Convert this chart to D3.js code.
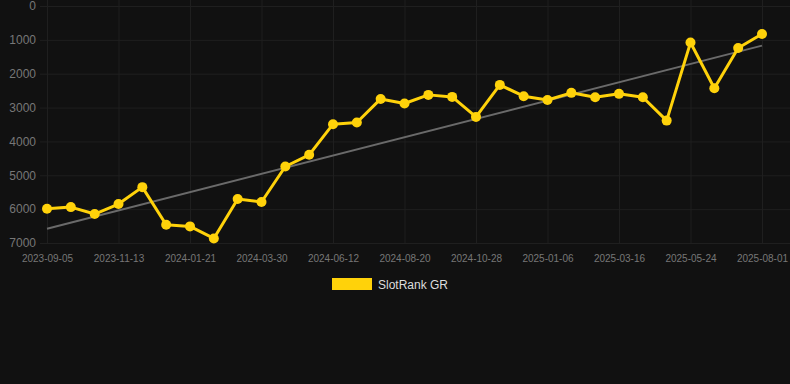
<!DOCTYPE html>
<html>
<head>
<meta charset="utf-8">
<script src="https://cdn.jsdelivr.net/npm/d3@7"></script>
<style>
  body { margin: 0; background: #111111; }
  svg { display: block; font-family: "Liberation Sans", Arial, sans-serif; }
  .grid line { stroke: #1f1f1f; }
  .grid text { fill: #777777; }
</style>
</head>
<body>
<div id="chart"></div>
<script>
// one label every third point
var tickLabels = ["2023-09-05", "2023-11-13", "2024-01-21", "2024-03-30", "2024-06-12",
  "2024-08-20", "2024-10-28", "2025-01-06", "2025-03-16", "2025-05-24", "2025-08-01"];

var rankValues = [5990, 5940, 6145, 5850, 5350, 6460, 6510, 6865, 5700, 5790,
  4740, 4395, 3490, 3440, 2745, 2880, 2625, 2685, 3275, 2330,
  2665, 2775, 2565, 2695, 2595, 2695, 3385, 1080, 2430, 1240, 825];

// trend line ends (first point, last point)
var trendValues = [6580, 1170];

var yTicks = [0, 1000, 2000, 3000, 4000, 5000, 6000, 7000];
var seriesName = "SlotRank GR";

var svgWidth = 790;
var svgHeight = 384;

var svg = d3.select("#chart")
  .append("svg")
  .attr("width", svgWidth)
  .attr("height", svgHeight);

svg.append("rect")
  .attr("width", svgWidth)
  .attr("height", svgHeight)
  .attr("fill", "#111111");

var idx = d3.range(rankValues.length);

var xScale = d3.scalePoint()
  .domain(idx)
  .range([47, 762]);

var yScale = d3.scaleLinear()
  .domain([0, 7000])
  .range([6, 243]);

// horizontal grid + y labels
var leftAxis = d3.axisLeft(yScale)
  .tickValues(yTicks)
  .tickSize(-750)
  .tickPadding(4)
  .tickFormat(d3.format("d"));

svg.append("g")
  .attr("class", "grid")
  .attr("transform", "translate(40, 0)")
  .call(leftAxis)
  .call(g => g.select(".domain").remove())
  .selectAll("text")
  .attr("font-size", "12px");

// vertical grid + x labels
var bottomAxis = d3.axisBottom(xScale)
  .tickValues(idx.filter(i => i % 3 == 0))
  .tickSize(-243)
  .tickPadding(12)
  .tickFormat(i => tickLabels[i / 3]);

svg.append("g")
  .attr("class", "grid")
  .attr("transform", "translate(0, 243)")
  .call(bottomAxis)
  .call(g => g.select(".domain").remove())
  .selectAll("text")
  .attr("font-size", "10px")
  .attr("fill", "#6e6e6e");

svg.append("line")
  .attr("x1", xScale(0))
  .attr("y1", yScale(trendValues[0]))
  .attr("x2", xScale(rankValues.length - 1))
  .attr("y2", yScale(trendValues[1]))
  .attr("stroke", "#6a6a6a")
  .attr("stroke-width", 2);

var line = d3.line()
  .x(i => xScale(i))
  .y(i => yScale(rankValues[i]));

svg.append("path")
  .datum(idx)
  .attr("d", line)
  .attr("fill", "none")
  .attr("stroke", "#ffd20a")
  .attr("stroke-width", 3)
  .attr("stroke-linejoin", "round");

svg.selectAll("circle.pt")
  .data(idx)
  .enter()
  .append("circle")
  .attr("class", "pt")
  .attr("cx", i => xScale(i))
  .attr("cy", i => yScale(rankValues[i]))
  .attr("r", 5)
  .attr("fill", "#ffd20a");

// legend
svg.append("rect")
  .attr("x", 332)
  .attr("y", 278)
  .attr("width", 40)
  .attr("height", 12)
  .attr("fill", "#ffd20a");

svg.append("text")
  .attr("x", 378)
  .attr("y", 288.5)
  .attr("font-size", "12px")
  .attr("fill", "#dddddd")
  .text(seriesName);
</script>
</body>
</html>
